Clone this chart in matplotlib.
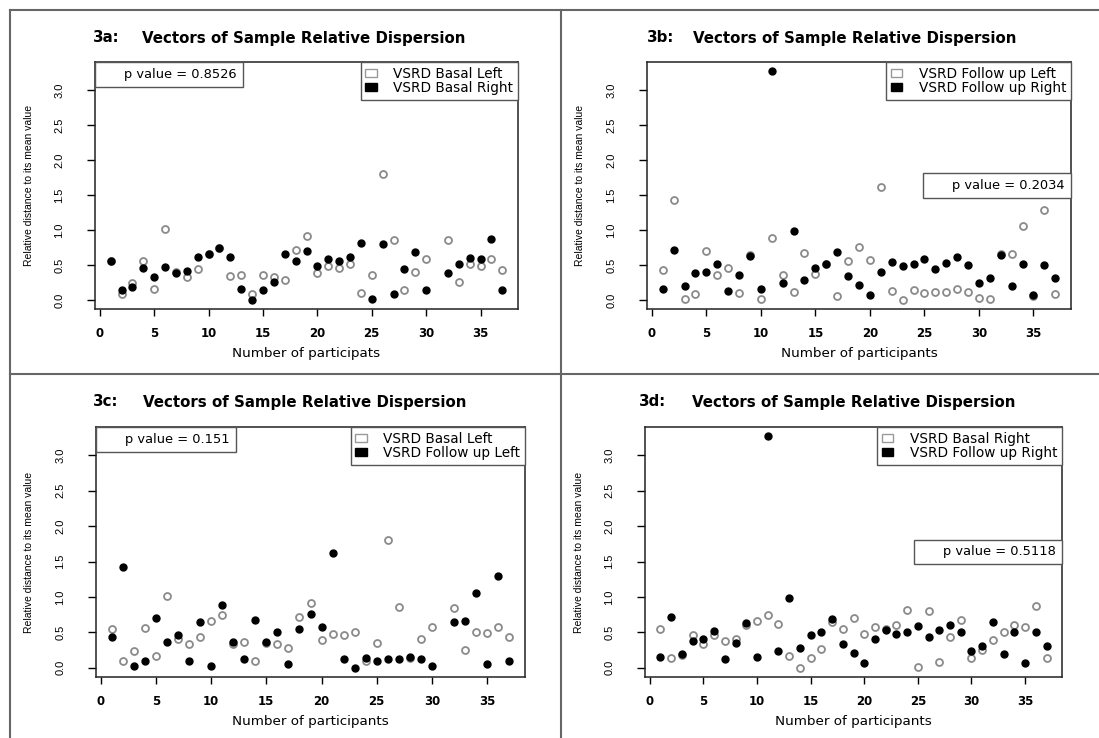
import numpy as np
import matplotlib.pyplot as plt
from matplotlib.patches import Patch
from matplotlib.lines import Line2D

# Relative distance of each participant to the mean value
participants = np.arange(1, 38)

basal_left = [0.55, 0.09, 0.24, 0.56, 0.16, 1.02, 0.40, 0.33, 0.44, 0.66,
              0.74, 0.34, 0.36, 0.09, 0.35, 0.33, 0.28, 0.72, 0.92, 0.39,
              0.48, 0.46, 0.51, 0.10, 0.35, 1.80, 0.86, 0.14, 0.40, 0.58,
              np.nan, 0.85, 0.25, 0.51, 0.49, 0.58, 0.43]
basal_right = [0.55, 0.14, 0.18, 0.46, 0.33, 0.47, 0.38, 0.41, 0.61, 0.66,
               0.74, 0.62, 0.16, 0.00, 0.14, 0.26, 0.65, 0.55, 0.70, 0.48,
               0.58, 0.55, 0.61, 0.82, 0.01, 0.80, 0.08, 0.44, 0.68, 0.14,
               0.25, 0.39, 0.51, 0.60, 0.58, 0.87, 0.14]
follow_left = [0.43, 1.43, 0.02, 0.09, 0.70, 0.36, 0.46, 0.10, 0.64, 0.02,
               0.88, 0.36, 0.12, 0.67, 0.37, 0.51, 0.05, 0.55, 0.76, 0.57,
               1.62, 0.13, 0.00, 0.14, 0.10, 0.12, 0.12, 0.15, 0.12, 0.03,
               0.01, 0.65, 0.66, 1.06, 0.06, 1.29, 0.09]
follow_right = [0.15, 0.72, 0.20, 0.38, 0.40, 0.52, 0.13, 0.35, 0.63, 0.15,
                3.27, 0.24, 0.98, 0.28, 0.46, 0.51, 0.69, 0.34, 0.21, 0.07,
                0.40, 0.54, 0.48, 0.51, 0.59, 0.44, 0.53, 0.61, 0.50, 0.24,
                0.31, 0.64, 0.20, 0.51, 0.07, 0.50, 0.31]

tags = ['3a:', '3b:', '3c:', '3d:']
open_series = [basal_left, follow_left, basal_left, basal_right]
filled_series = [basal_right, follow_right, follow_left, follow_right]
open_labels = ['VSRD Basal Left', 'VSRD Follow up Left', 'VSRD Basal Left', 'VSRD Basal Right']
filled_labels = ['VSRD Basal Right', 'VSRD Follow up Right', 'VSRD Follow up Left', 'VSRD Follow up Right']
p_texts = ['p value = 0.8526', 'p value = 0.2034', 'p value = 0.151', 'p value = 0.5118']
x_labels = ['Number of participats', 'Number of participants',
            'Number of participants', 'Number of participants']

W, H = 1099, 738
# axes boxes in pixels: left, top, right, bottom
boxes = [(95, 62, 518, 309), (647, 62, 1071, 309),
         (96, 427, 525, 677), (645, 427, 1062, 677)]
tag_pos = [(93, 38), (647, 38), (93, 402), (639, 402)]
title_x = [142, 693, 143, 692]
ylab_x = [29, 580, 29, 579]
p_loc = ['upper left', 'center right', 'upper left', 'center right']

narrow = ['Liberation Sans Narrow', 'Liberation Sans', 'DejaVu Sans']

fig = plt.figure(figsize=(W / 100, H / 100), dpi=100)

for i in range(4):
    l, t, r, b = boxes[i]
    ax = fig.add_axes([l / W, 1 - b / H, (r - l) / W, (b - t) / H])

    o = np.array(open_series[i], dtype=float)
    f = np.array(filled_series[i], dtype=float)
    ok = ~np.isnan(o) & ~np.isnan(f)

    ax.plot(participants[ok], o[ok], 'o', ms=5, mfc='white', mec='#8a8a8a', mew=1.3)
    ax.plot(participants[ok], f[ok], 'o', ms=5, mfc='black', mec='black', mew=1)

    ax.set_xlim(-0.44, 38.44)
    ax.set_ylim(-0.13, 3.40)
    ax.set_xticks(range(0, 36, 5))
    ax.set_yticks(np.arange(0, 3.01, 0.5))
    ax.set_yticklabels([f'{v:.1f}' for v in np.arange(0, 3.01, 0.5)],
                       rotation=90, va='center', family=narrow, fontsize=8)
    for lab in ax.get_xticklabels():
        lab.set_fontweight('bold')
        lab.set_fontsize(8.5)
    ax.tick_params(axis='x', length=5, width=1, pad=8)
    ax.tick_params(axis='y', length=6, width=1, pad=16)
    for s in ax.spines.values():
        s.set_linewidth(1.1)
        s.set_color('#222222')

    ax.set_xlabel(x_labels[i], fontsize=9.7, va='center')
    ax.xaxis.set_label_coords(0.5, -45 / (b - t))

    fig.text(ylab_x[i] / W, 1 - (t + b) / 2 / H, 'Relative distance to its mean value',
             rotation=90, ha='center', va='center', family=narrow, fontsize=7.5)

    tx, ty = tag_pos[i]
    fig.text(tx / W, 1 - ty / H, tags[i], fontsize=10.8, fontweight='bold', va='center')
    fig.text(title_x[i] / W, 1 - ty / H, 'Vectors of Sample Relative Dispersion',
             fontsize=10.8, fontweight='bold', va='center')

    handles = [Patch(facecolor='white', edgecolor='#999999', linewidth=1),
               Patch(facecolor='black', edgecolor='black', linewidth=1)]
    leg = ax.legend(handles, [open_labels[i], filled_labels[i]], loc='upper right',
                    bbox_to_anchor=(1, 1), borderaxespad=0, fontsize=9.8,
                    handlelength=0.85, handleheight=0.5, handletextpad=1.2,
                    labelspacing=0.0, borderpad=0.35, fancybox=False,
                    framealpha=1, edgecolor='#555555')
    leg.get_frame().set_linewidth(1)
    ax.add_artist(leg)

    ph = Line2D([], [], linestyle='none')
    pleg = ax.legend([ph], [p_texts[i]], loc=p_loc[i],
                     bbox_to_anchor=(0, 1) if p_loc[i] == 'upper left' else (1, 0.5),
                     borderaxespad=0, fontsize=9.4, handlelength=0.8,
                     handletextpad=1.0, borderpad=0.45, fancybox=False,
                     framealpha=1, edgecolor='#555555')
    pleg.get_frame().set_linewidth(1)

# panel frame lines
border = dict(color='#666666', linewidth=1.5, transform=fig.transFigure)
fig.add_artist(Line2D([10 / W, 1], [1 - 10 / H] * 2, **border))
fig.add_artist(Line2D([10 / W, 1], [1 - 374 / H] * 2, **border))
fig.add_artist(Line2D([10 / W] * 2, [0, 1 - 10 / H], **border))
fig.add_artist(Line2D([561 / W] * 2, [0, 1 - 10 / H], **border))

plt.savefig('out.png', dpi=100)
